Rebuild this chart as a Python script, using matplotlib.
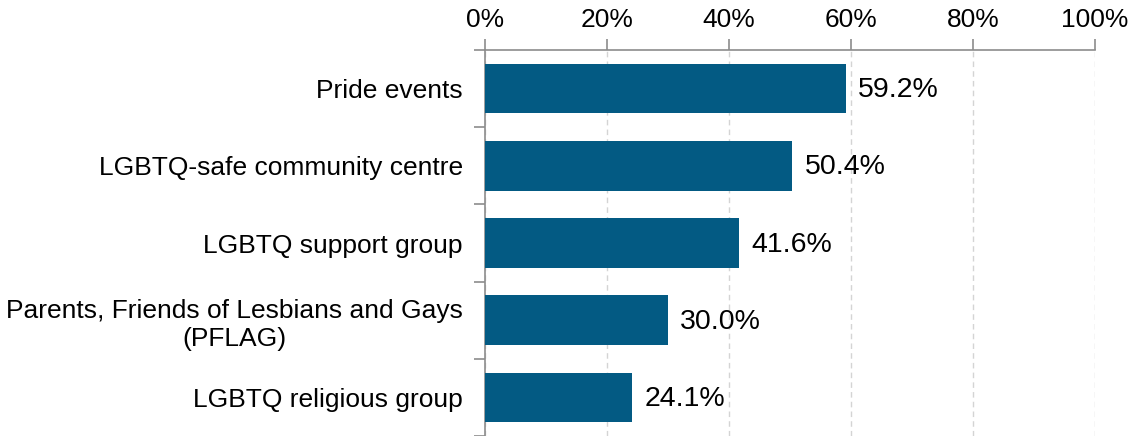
import matplotlib
matplotlib.use("Agg")
import matplotlib.pyplot as plt
import numpy as np
from matplotlib.ticker import PercentFormatter

plt.rcParams['font.family'] = ['Liberation Sans', 'DejaVu Sans']

categories = [
    "Pride events",
    "LGBTQ-safe community centre",
    "LGBTQ support group",
    "Parents, Friends of Lesbians and Gays\n(PFLAG)",
    "LGBTQ religious group",
]
values = [59.2, 50.4, 41.6, 30.0, 24.1]
x_ticks = [0, 20, 40, 60, 80, 100]

bar_color = "#035A83"
axis_gray = "#8c8c8c"

fig = plt.figure(figsize=(11.3, 4.36), dpi=100)
ax = fig.add_axes([0.4292, 0.0, 0.5398, 0.8853])

pos = np.arange(len(categories))
ax.barh(pos, values, height=0.64, color=bar_color, zorder=3)

for y, v in zip(pos, values):
    ax.text(v + 2.0, y + 0.02, f"{v:.1f}%", va="center", ha="left", fontsize=20.5, color="black")

ax.set_xlim(0, 100)
ax.set_ylim(len(categories) - 0.5, -0.5)

ax.xaxis.tick_top()
ax.set_xticks(x_ticks)
ax.xaxis.set_major_formatter(PercentFormatter(decimals=0))
ax.tick_params(axis="x", which="major", direction="out", length=8, width=1.2,
               color=axis_gray, pad=5, labelsize=19)

ax.set_yticks(pos)
ax.set_yticklabels(categories)
ax.tick_params(axis="y", which="major", length=0, pad=16, labelsize=19)
ax.set_yticks(np.arange(len(categories) + 1) - 0.5, minor=True)
ax.tick_params(axis="y", which="minor", direction="out", length=8, width=1.2, color=axis_gray)
for lbl in ax.get_yticklabels():
    lbl.set_multialignment("center")

for side in ("right", "bottom"):
    ax.spines[side].set_visible(False)
for side in ("top", "left"):
    ax.spines[side].set_color(axis_gray)
    ax.spines[side].set_linewidth(1.2)

ax.grid(axis="x", which="major", linestyle=(0, (4, 3)), color="#d4d4d4", linewidth=1, zorder=0)
ax.set_axisbelow(True)

fig.savefig("out.png", dpi=100)
